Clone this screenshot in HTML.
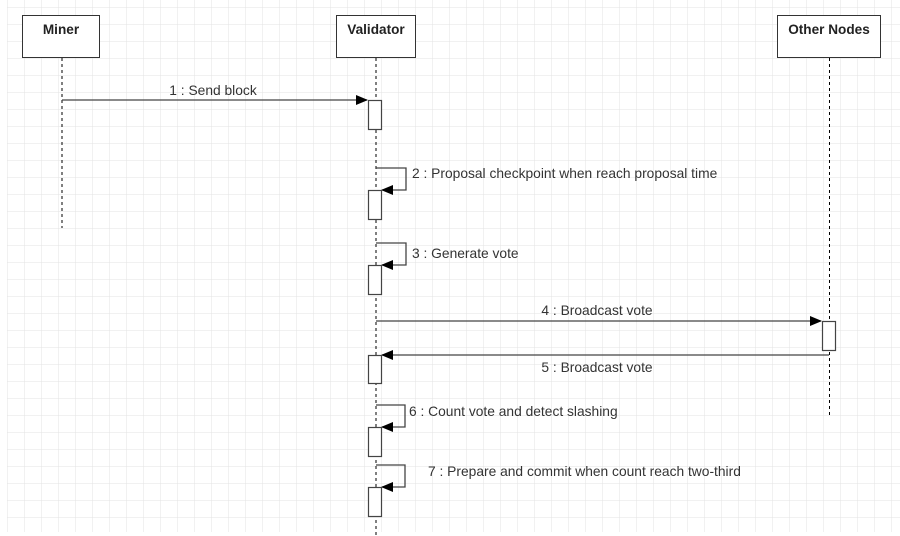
<!DOCTYPE html>
<html><head><style>
html,body{margin:0;padding:0;background:#fff;}
body{width:900px;height:536px;overflow:hidden;position:relative;font-family:"Liberation Sans",Arial,sans-serif;}
</style></head><body>
<svg width="900" height="536" xmlns="http://www.w3.org/2000/svg" style="position:absolute;left:0;top:0">
<defs>
<pattern id="g" x="7" y="7" width="17" height="17" patternUnits="userSpaceOnUse">
<path d="M0 0H17M0 0V17" stroke="#e3e3e3" stroke-width="1" fill="none"/>
</pattern>
<marker id="a" markerWidth="12" markerHeight="10" refX="11" refY="5" orient="auto" markerUnits="userSpaceOnUse">
<path d="M0 0L12 5L0 10z" fill="#000"/>
</marker>
</defs>
<rect x="7" y="0" width="893" height="532" fill="url(#g)"/>
<g fill="#fff" stroke="#333" stroke-width="1">
<rect x="22.5" y="15.5" width="77" height="42"/>
<rect x="336.5" y="15.5" width="79" height="42"/>
<rect x="777.5" y="15.5" width="103" height="42"/>
</g>
<g font-size="13.6" font-weight="bold" fill="#222" text-anchor="middle">
<text x="61" y="34">Miner</text>
<text x="376" y="34">Validator</text>
<text x="829" y="34">Other Nodes</text>
</g>
<g stroke="#000" stroke-dasharray="3,3" stroke-width="1">
<line x1="62" y1="58" x2="62" y2="228"/>
<line x1="376" y1="58" x2="376" y2="536"/>
<line x1="829.5" y1="58" x2="829.5" y2="415"/>
</g>
<g stroke="#444" stroke-width="1.3" fill="none">
<line x1="62" y1="100" x2="367" y2="100" marker-end="url(#a)"/>
<path d="M376 168H406V190H382" marker-end="url(#a)"/>
<path d="M376 243H406V265H382" marker-end="url(#a)"/>
<line x1="376" y1="321" x2="821" y2="321" marker-end="url(#a)"/>
<line x1="829" y1="355" x2="382" y2="355" marker-end="url(#a)"/>
<path d="M376 405H405V427H382" marker-end="url(#a)"/>
<path d="M376 465H405V487H382" marker-end="url(#a)"/>
</g>
<g fill="#fff" stroke="#444" stroke-width="1.2">
<rect x="368.5" y="100.5" width="13" height="29"/>
<rect x="368.5" y="190.5" width="13" height="29"/>
<rect x="368.5" y="265.5" width="13" height="29"/>
<rect x="822.5" y="321.5" width="13" height="29"/>
<rect x="368.5" y="355.5" width="13" height="28"/>
<rect x="368.5" y="427.5" width="13" height="29"/>
<rect x="368.5" y="487.5" width="13" height="29"/>
</g>
<g font-size="13.8" fill="#333">
<text x="213" y="95" text-anchor="middle">1 : Send block</text>
<text x="412" y="178">2 : Proposal checkpoint when reach proposal time</text>
<text x="412" y="258">3 : Generate vote</text>
<text x="597" y="315" text-anchor="middle">4 : Broadcast vote</text>
<text x="597" y="372" text-anchor="middle">5 : Broadcast vote</text>
<text x="409" y="416">6 : Count vote and detect slashing</text>
<text x="428" y="476">7 : Prepare and commit when count reach two-third</text>
</g>
</svg>
</body></html>
